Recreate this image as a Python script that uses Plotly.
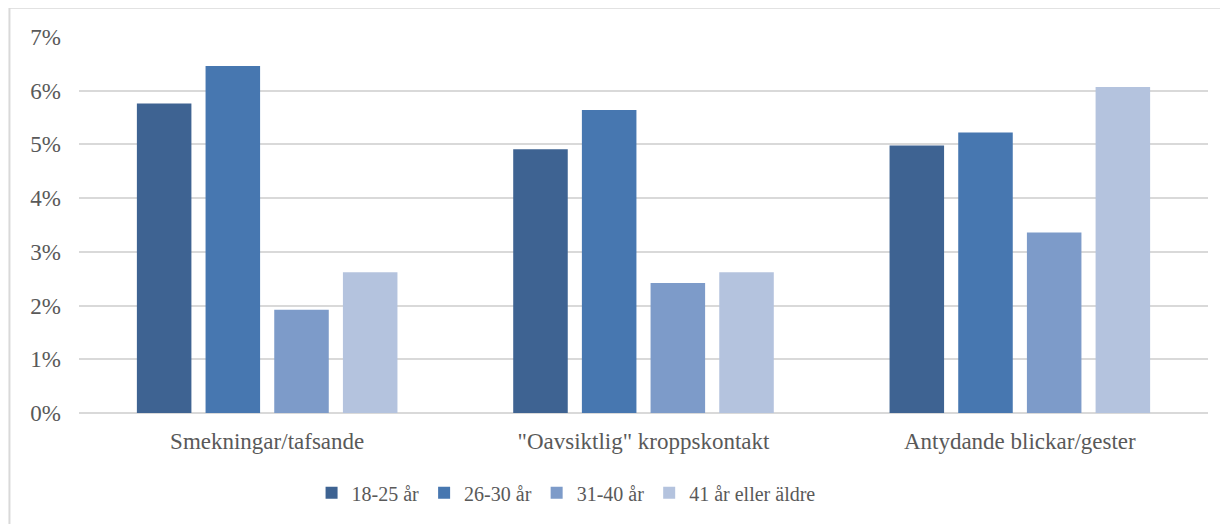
import plotly.graph_objects as go

# Data
categories = ["Smekningar/tafsande", "\"Oavsiktlig\" kroppskontakt", "Antydande blickar/gester"]
groups = ["18-25 år", "26-30 år", "31-40 år", "41 år eller äldre"]
values_18_25 = [0.0576, 0.0491, 0.0498]
values_26_30 = [0.0646, 0.0564, 0.0522]
values_31_40 = [0.0192, 0.0242, 0.0336]
values_41_up = [0.0262, 0.0262, 0.0607]
colors = ["#3e6392", "#4777b0", "#7d9bc9", "#b4c3de"]

series = [values_18_25, values_26_30, values_31_40, values_41_up]
serif = "Times New Roman"
grey = "#595959"

fig = go.Figure()
for name, vals, col in zip(groups, series, colors):
    fig.add_trace(go.Bar(
        x=categories, y=vals, name=name,
        marker=dict(color=col, line=dict(width=0)),
        hovertemplate="%{x}<br>%{y:.1%}<extra>" + name + "</extra>",
    ))

# page body adds 8px margin, so offsets are reduced by 8
fig.update_layout(
    width=1220, height=516,
    margin=dict(l=71, r=20, t=29, b=102),
    plot_bgcolor="white", paper_bgcolor="white",
    font=dict(family=serif, size=20, color=grey),
    barmode="group", bargap=0.27, bargroupgap=0.206,
    showlegend=True,
    legend=dict(orientation="h", x=0.206, xanchor="left", y=-0.212, yanchor="middle",
                font=dict(family=serif, size=20, color=grey), itemwidth=30,
                traceorder="normal"),
    xaxis=dict(showgrid=False, showline=False, ticks="", ticklabelstandoff=12,
               tickfont=dict(family=serif, size=23, color=grey)),
    yaxis=dict(range=[0, 0.07], dtick=0.01, tickformat=".0%", showgrid=True,
               gridcolor="#d9d9d9", gridwidth=1.5, zeroline=True, zerolinecolor="#d9d9d9",
               zerolinewidth=1.5, showline=False, ticks="", ticklabelstandoff=17,
               tickfont=dict(family=serif, size=23, color=grey)),
    shapes=[
        dict(type="line", xref="paper", yref="paper", x0=-0.0616, x1=1.1, y0=1.078, y1=1.078,
             line=dict(color="#d9d9d9", width=2)),
        dict(type="line", xref="paper", yref="paper", x0=-0.0616, x1=-0.0616, y0=1.078, y1=-0.5,
             line=dict(color="#d9d9d9", width=2)),
    ],
)

fig.write_html("out.html")
